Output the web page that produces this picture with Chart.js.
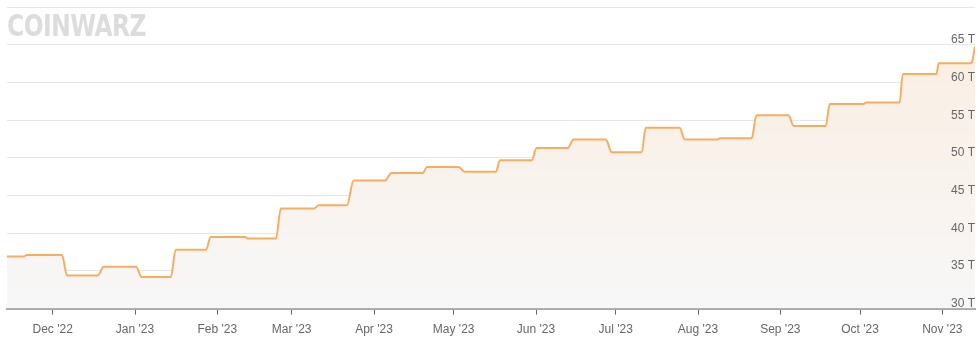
<!DOCTYPE html>
<html lang="en">

<head>
    <meta charset="UTF-8">
    <title>Difficulty chart</title>
    <script src="https://cdn.jsdelivr.net/npm/chart.js"></script>
    <style>
        body {
            margin: 0;
            background: #ffffff;
            font-family: "Liberation Sans", Arial, sans-serif;
        }

        #wrap {
            position: relative;
            width: 980px;
            height: 352px;
        }

        #logo {
            position: absolute;
            left: 7px;
            top: 8px;
            font-family: "DejaVu Sans Condensed", "DejaVu Sans", sans-serif;
            font-weight: bold;
            font-size: 26px;
            text-transform: uppercase;
            color: #dcdcdc;
            transform: scaleY(1.15);
            transform-origin: top left;
            letter-spacing: -0.5px;
            pointer-events: none;
        }
    </style>
</head>

<body>
    <div id="wrap">
        <canvas id="mycanvas"></canvas>
        <div id="logo">CoinWarz</div>
    </div>

    <script>
        // x values are days counted from 1 Dec 2022
        const monthDays = [0, 31, 62, 90, 121, 151, 182, 212, 243, 274, 304, 335];
        const monthLabels = ["Dec '22", "Jan '23", "Feb '23", "Mar '23", "Apr '23", "May '23",
            "Jun '23", "Jul '23", "Aug '23", "Sep '23", "Oct '23", "Nov '23"];

        const days = [-17.2, -10.8, -9.8, 3.5, 5.4, 17.0, 19.2, 31.4, 33.5, 44.5, 46.3, 57.7, 59.5,
            72.5, 73.5, 84.1, 85.9, 98.4, 100.2, 110.8, 113.3, 125.1, 127.6, 139.4, 140.9,
            152.9, 155.1, 166.9, 168.4, 180.4, 182.2, 193.9, 196.1, 208.3, 210.5, 221.8, 223.3,
            236.1, 238.0, 250.3, 251.3, 263.2, 265.0, 277.1, 279.0, 291.1, 292.6, 305.3, 306.3,
            318.9, 320.1, 332.8, 333.6, 345.9, 347.3];
        // network difficulty, in T
        const difficulty = [36.9, 36.9, 37.1, 37.1, 34.4, 34.4, 35.55, 35.55, 34.2, 34.2, 37.8, 37.8, 39.5,
            39.5, 39.3, 39.3, 43.3, 43.3, 43.7, 43.7, 47.0, 47.0, 48.0, 48.0, 48.8,
            48.8, 48.15, 48.15, 49.7, 49.7, 51.3, 51.3, 52.45, 52.45, 50.75, 50.75, 54.0,
            54.0, 52.45, 52.45, 52.6, 52.6, 55.65, 55.65, 54.25, 54.25, 57.15, 57.15, 57.35,
            57.35, 61.15, 61.15, 62.55, 62.55, 64.8];

        const yTicks = [30, 35, 40, 45, 50, 55, 60, 65, 70];

        const points = days.map((d, i) => ({ x: d, y: difficulty[i] }));
        const labelFont = { family: "'Liberation Sans', Arial, sans-serif", size: 12 };

        var ctx = document.getElementById('mycanvas').getContext('2d');

        new Chart(ctx, {
            type: 'line',
            data: {
                datasets: [{
                    data: points,
                    borderColor: '#f7ad5f',
                    borderWidth: 2,
                    pointRadius: 0,
                    cubicInterpolationMode: 'monotone',
                    fill: 'start',
                    backgroundColor: function (context) {
                        const area = context.chart.chartArea;
                        if (!area) return '#f8f3ee';
                        const g = context.chart.ctx.createLinearGradient(0, area.top, 0, area.bottom);
                        g.addColorStop(0, '#fbede0');
                        g.addColorStop(1, '#f7f7f7');
                        return g;
                    }
                }]
            },
            options: {
                responsive: true,
                maintainAspectRatio: false,
                animation: false,
                layout: {
                    padding: { left: 7, right: 5, top: 7, bottom: 7 }
                },
                plugins: {
                    legend: { display: false },
                    tooltip: { enabled: false }
                },
                scales: {
                    x: {
                        type: 'linear',
                        min: -17.2,
                        max: 347.3,
                        afterBuildTicks: function (scale) {
                            scale.ticks = monthDays.map(v => ({ value: v }));
                        },
                        grid: {
                            drawOnChartArea: false,
                            drawTicks: true,
                            tickLength: 6,
                            tickColor: '#666666',
                            tickWidth: 1
                        },
                        border: { display: true, color: '#a8a8a8', width: 2 },
                        ticks: {
                            autoSkip: false,
                            maxRotation: 0,
                            padding: 8,
                            color: '#666666',
                            font: labelFont,
                            callback: function (value, index) {
                                return monthLabels[index];
                            }
                        }
                    },
                    y: {
                        position: 'right',
                        min: 30,
                        max: 70,
                        afterBuildTicks: function (scale) {
                            scale.ticks = yTicks.map(v => ({ value: v }));
                        },
                        grid: {
                            color: '#e6e6e6',
                            lineWidth: 1,
                            drawTicks: false
                        },
                        border: { display: false },
                        ticks: {
                            z: 1,   // labels over the area fill, grid stays under it
                            mirror: true,
                            padding: 0,
                            labelOffset: -5,
                            autoSkip: false,
                            color: '#666666',
                            font: labelFont,
                            callback: function (value) {
                                return value >= 70 ? '' : value + ' T';
                            }
                        }
                    }
                }
            }
        });
    </script>

</body>

</html>
